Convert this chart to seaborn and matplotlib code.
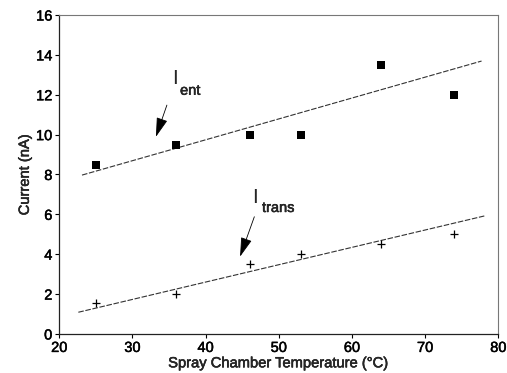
import matplotlib
matplotlib.use("Agg")
import matplotlib.pyplot as plt
import matplotlib.patheffects as pe
import seaborn as sns
import pandas as pd

# Measured currents vs spray chamber temperature
temperature = [25, 36, 46, 53, 64, 74]
i_ent = [8.5, 9.5, 10.0, 10.0, 13.5, 12.0]
i_trans = [1.55, 2.0, 3.5, 4.0, 4.5, 5.0]

# Trend lines (endpoints)
fit_temp_ent = [23.1, 77.7]
fit_ent = [7.97, 13.69]
fit_temp_trans = [22.6, 78.2]
fit_trans = [1.09, 5.93]

x_ticks = [20, 30, 40, 50, 60, 70, 80]
y_ticks = [0, 2, 4, 6, 8, 10, 12, 14, 16]

sns.set_style("ticks")
plt.rcParams["font.family"] = ["Liberation Sans", "DejaVu Sans"]
heavy = [pe.withStroke(linewidth=0.35, foreground="black")]

fig = plt.figure(figsize=(5.07, 3.73), dpi=100)
ax = fig.add_axes([0.117, 0.1046, 0.866, 0.8552])

pts = pd.DataFrame({"T": temperature, "ent": i_ent, "trans": i_trans})
rect = [(-1.25, -1), (1.25, -1), (1.25, 1), (-1.25, 1), (-1.25, -1)]

sns.lineplot(x=fit_temp_ent, y=fit_ent, ax=ax, color="#333333", lw=0.8,
             linestyle=(0, (5, 1.5)))
sns.lineplot(x=fit_temp_trans, y=fit_trans, ax=ax, color="#333333", lw=0.8,
             linestyle=(0, (5, 1.5)))
sns.scatterplot(data=pts, x="T", y="ent", ax=ax, marker=rect, s=40,
                color="black", edgecolor="black", linewidth=0, zorder=3)
sns.scatterplot(data=pts, x="T", y="trans", ax=ax, marker="+", s=30,
                color="black", linewidth=0.9, zorder=3)

ax.set_xlim(20, 80)
ax.set_ylim(0, 16)
ax.set_xticks(x_ticks)
ax.set_yticks(y_ticks)
ax.tick_params(axis="both", direction="out", length=3, width=0.8,
               labelsize=10.5, pad=2, colors="black")
for lab in ax.get_xticklabels() + ax.get_yticklabels():
    lab.set_path_effects(heavy)
ax.set_xlabel("Spray Chamber Temperature (°C)", fontsize=10.6, labelpad=1,
              path_effects=heavy)
ax.set_ylabel("Current (nA)", fontsize=10.6, labelpad=3, path_effects=heavy)

for side in ("left", "bottom"):
    ax.spines[side].set_color("#222222")
    ax.spines[side].set_linewidth(0.9)
for side in ("top", "right"):
    ax.spines[side].set_color("#777777")
    ax.spines[side].set_linewidth(0.8)

# Labels with arrows
ax.text(35.8, 12.8, "I", fontsize=15, ha="center", va="center")
ax.text(36.5, 12.0, "ent", fontsize=10.5, ha="left", va="baseline",
        path_effects=heavy)
ax.annotate("", xy=(33.2, 9.89), xytext=(34.7, 11.48),
            arrowprops=dict(arrowstyle="-|>,head_length=1.2,head_width=0.35",
                            color="black", lw=0.6, shrinkA=0, shrinkB=0))

ax.text(46.8, 6.85, "I", fontsize=15, ha="center", va="center")
ax.text(47.7, 6.12, "trans", fontsize=10.5, ha="left", va="baseline",
        path_effects=heavy)
ax.annotate("", xy=(44.7, 3.88), xytext=(46.65, 5.88),
            arrowprops=dict(arrowstyle="-|>,head_length=1.2,head_width=0.35",
                            color="black", lw=0.6, shrinkA=0, shrinkB=0))

fig.savefig("out.png", dpi=100)
